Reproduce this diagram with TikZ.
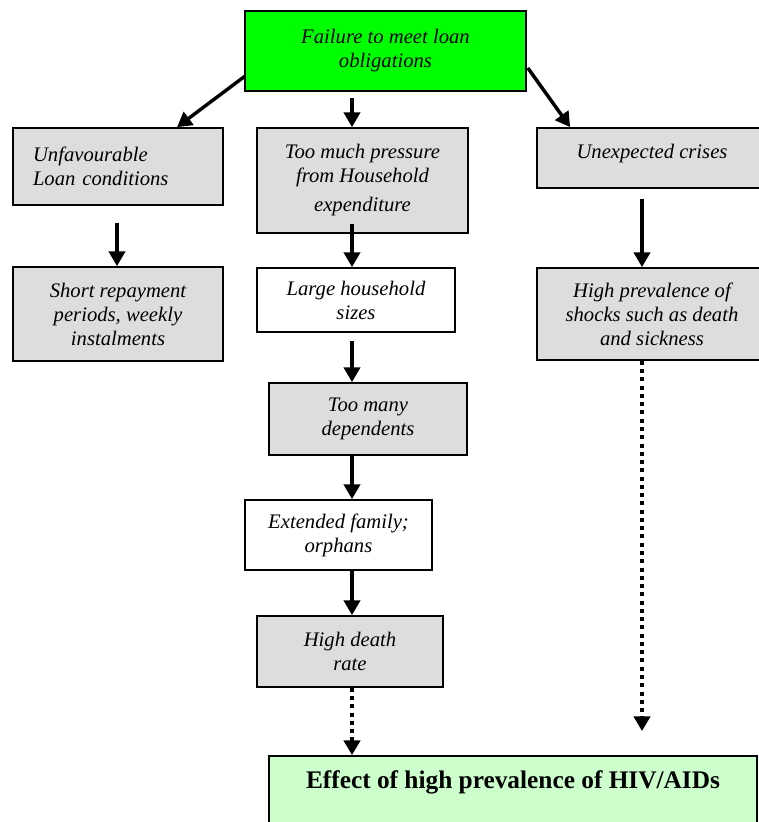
\documentclass[tikz,border=0pt]{standalone}
\usepackage{fontspec}
\setmainfont{Liberation Serif}
\usetikzlibrary{arrows.meta,calc}
\definecolor{boxgray}{RGB}{221,221,221}
\definecolor{brightgreen}{RGB}{0,255,0}
\definecolor{palegreen}{RGB}{204,255,204}
\begin{document}
\begin{tikzpicture}[x=0.75pt,y=-0.75pt,
  box/.style={draw=black, line width=1.3pt, inner sep=0pt, align=center,
    font=\fontsize{15.5}{18}\selectfont\itshape},
  arr/.style={line width=2.6pt, -{Triangle[width=12pt,length=11pt]}},
  dotarr/.style={line width=3.2pt, dash pattern=on 3pt off 3.2pt, -{Triangle[width=12pt,length=11pt]}}]
\useasboundingbox (0,0) rectangle (759,822);
\clip (0,0) rectangle (759,822);

\node[box, fill=brightgreen, minimum width=210.75pt, minimum height=60pt] (top) at (385.5,51) {Failure to meet loan\\obligations};
\node[box, fill=boxgray, minimum width=157.5pt, minimum height=57.75pt, text width=127.5pt, align=left] (L1) at (118,166.5) {Unfavourable\\Loan conditions};
\node[box, fill=boxgray, minimum width=157.5pt, minimum height=70.5pt] (L2) at (118,314) {Short repayment\\periods, weekly\\instalments};
\node[box, fill=boxgray, minimum width=158.25pt, minimum height=78.75pt] (M1) at (362.5,180.5) {Too much pressure\\from Household\\[3.75pt]expenditure};
\node[box, fill=white, minimum width=148.5pt, minimum height=48pt] (M2) at (356,300) {Large household\\sizes};
\node[box, fill=boxgray, minimum width=148.5pt, minimum height=54pt] (M3) at (368,419) {Too many\\dependents};
\node[box, fill=white, minimum width=140.25pt, minimum height=52.5pt] (M4) at (338.5,535) {Extended family;\\orphans};
\node[box, fill=boxgray, minimum width=139.5pt, minimum height=53.25pt] (M5) at (350,651.5) {High death\\rate};
\node[box, fill=boxgray, minimum width=172.5pt, minimum height=45pt, text height=10pt, text depth=10pt] (R1) at (652,158) {Unexpected crises};
\node[box, fill=boxgray, minimum width=172.5pt, minimum height=69pt] (R2) at (652,314) {High prevalence of\\shocks such as death\\and sickness};
\node[box, fill=palegreen, minimum width=366pt, minimum height=63pt, font=\fontsize{19}{22}\selectfont\bfseries, text height=12pt, text depth=27pt] (B) at (513,798) {Effect of high prevalence of HIV/AIDs};

\coordinate (cx) at (352,0);
\coordinate (rx) at (642,0);
\coordinate (lx) at (117,0);

\draw[arr] ($(top.west)+(1,25)$) -- ($(L1.north)+(59,0)$);
\draw[arr] ($(top.south -| cx)+(0,6)$) -- (M1.north -| cx);
\draw[arr] ($(top.east)+(1,17)$) -- ($(R1.north west)+(34,0)$);
\draw[arr] ($(L1.south -| lx)+(0,17)$) -- (L2.north -| lx);
\draw[arr] ($(M1.south -| cx)+(0,-10)$) -- (M2.north -| cx);
\draw[arr] ($(M2.south -| cx)+(0,8)$) -- (M3.north -| cx);
\draw[arr] (M3.south -| cx) -- (M4.north -| cx);
\draw[arr] (M4.south -| cx) -- (M5.north -| cx);
\draw[dotarr] (M5.south -| cx) -- (B.north -| cx);
\draw[arr] ($(R1.south -| rx)+(0,10)$) -- (R2.north -| rx);
\draw[dotarr] (R2.south -| rx) -- ($(B.north -| rx)+(0,-24)$);
\end{tikzpicture}
\end{document}
